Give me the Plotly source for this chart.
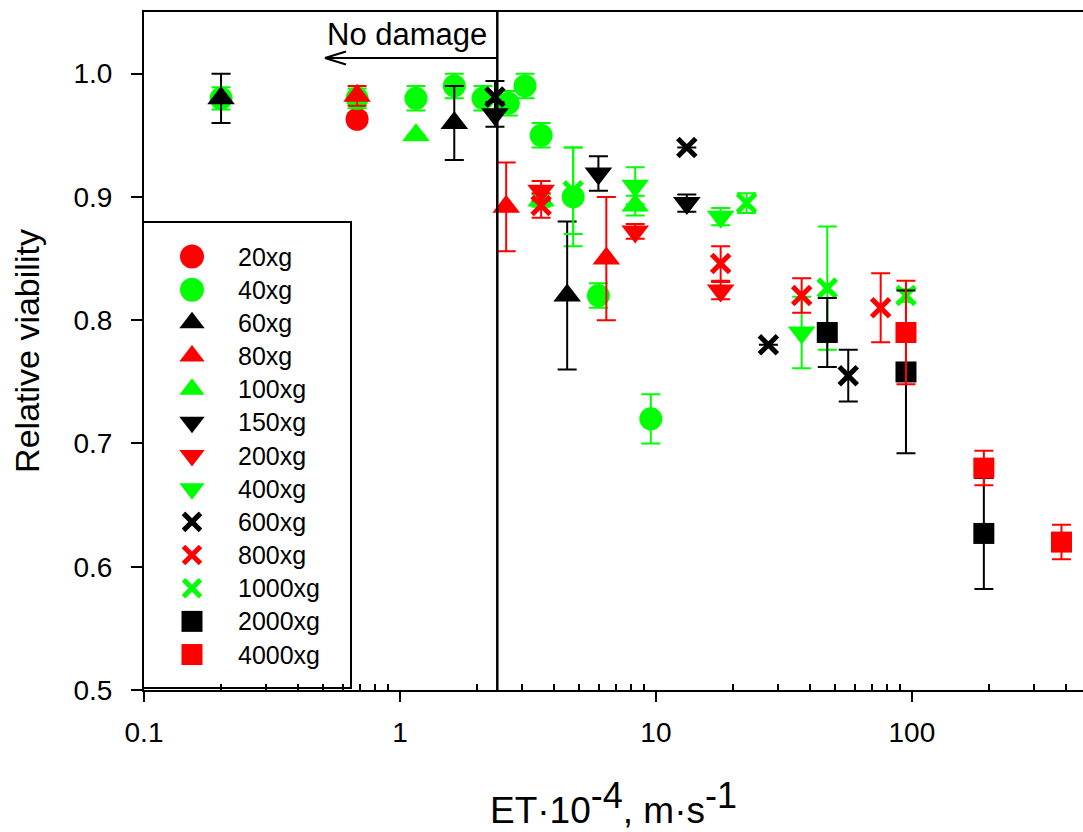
import math
import plotly.graph_objects as go

# ---------------- data ----------------
labels = ["20xg", "40xg", "60xg", "80xg", "100xg", "150xg", "200xg",
          "400xg", "600xg", "800xg", "1000xg", "2000xg", "4000xg"]

et_20 = [0.68]
v_20 = [0.963]
e_20 = [0.005]

et_40 = [0.2, 0.68, 1.155, 1.63, 2.11, 2.65, 3.08, 3.56, 4.75, 5.96, 9.55]
v_40 = [0.98, 0.98, 0.98, 0.99, 0.98, 0.976, 0.99, 0.95, 0.90, 0.82, 0.72]
e_40 = [0.009, 0.008, 0.01, 0.01, 0.01, 0.01, 0.01, 0.01, 0.04, 0.01, 0.02]

et_60 = [0.2, 1.63, 4.5]
v_60 = [0.98, 0.96, 0.82]
e_60 = [0.02, 0.03, 0.06]

et_80 = [0.68, 2.6, 6.4]
v_80 = [0.982, 0.892, 0.85]
e_80 = [0.008, 0.036, 0.05]

et_100 = [1.155, 3.56, 8.3]
v_100 = [0.95, 0.897, 0.893]
e_100 = [0.0, 0.005, 0.008]

et_150 = [2.35, 5.96, 13.2]
v_150 = [0.967, 0.919, 0.895]
e_150 = [0.01, 0.014, 0.007]

et_200 = [3.56, 8.3, 17.9]
v_200 = [0.905, 0.872, 0.824]
e_200 = [0.008, 0.006, 0.007]

et_400 = [8.3, 17.9, 37.1]
v_400 = [0.909, 0.884, 0.79]
e_400 = [0.015, 0.007, 0.029]

et_600 = [2.35, 13.2, 27.5, 56.4]
v_600 = [0.981, 0.94, 0.78, 0.755]
e_600 = [0.013, 0.0, 0.0, 0.021]

et_800 = [3.56, 17.9, 37.1, 75.5]
v_800 = [0.893, 0.846, 0.82, 0.81]
e_800 = [0.01, 0.014, 0.014, 0.028]

et_1000 = [4.75, 22.6, 46.7, 94.8]
v_1000 = [0.905, 0.895, 0.826, 0.82]
e_1000 = [0.035, 0.008, 0.05, 0.005]

et_2000 = [46.7, 94.8, 191]
v_2000 = [0.79, 0.758, 0.627]
e_2000 = [0.028, 0.066, 0.045]

et_4000 = [94.8, 191, 384]
v_4000 = [0.79, 0.68, 0.62]
e_4000 = [0.042, 0.014, 0.014]

no_damage_limit = 2.4

x_ticks = [0.1, 1, 10, 100]
x_ticktext = ["0.1", "1", "10", "100"]
y_ticks = [0.5, 0.6, 0.7, 0.8, 0.9, 1.0]

# ---------------- styles ----------------
RED, GREEN, BLACK = "#ff0000", "#00ff00", "#000000"
series = [
    (et_20, v_20, e_20, RED, "circle"),
    (et_40, v_40, e_40, GREEN, "circle"),
    (et_60, v_60, e_60, BLACK, "triangle-up"),
    (et_80, v_80, e_80, RED, "triangle-up"),
    (et_100, v_100, e_100, GREEN, "triangle-up"),
    (et_150, v_150, e_150, BLACK, "triangle-down"),
    (et_200, v_200, e_200, RED, "triangle-down"),
    (et_400, v_400, e_400, GREEN, "triangle-down"),
    (et_600, v_600, e_600, BLACK, "x-thin"),
    (et_800, v_800, e_800, RED, "x-thin"),
    (et_1000, v_1000, e_1000, GREEN, "x-thin"),
    (et_2000, v_2000, e_2000, BLACK, "square"),
    (et_4000, v_4000, e_4000, RED, "square"),
]
plot_size = {"circle": 23, "triangle-up": 24, "triangle-down": 24, "x-thin": 18, "square": 21}
legend_size = {"circle": 24, "triangle-up": 22, "triangle-down": 22, "x-thin": 17, "square": 21}

FONT = "Liberation Sans, Arial, sans-serif"
W, H = 1083, 832
L, R, T, B = 144, 0, 12, 142
PW, PH = W - L - R, H - T - B


def px2paper_x(px):
    return (px - L) / PW


def px2paper_y(py):
    return (H - B - py) / PH


def marker(sym, size, color):
    if sym == "x-thin":
        return dict(symbol=sym, size=size, color=color, line=dict(color=color, width=5))
    return dict(symbol=sym, size=size, color=color, line=dict(width=0))


fig = go.Figure()

for (xs, ys, es, color, sym), name in zip(series, labels):
    fig.add_trace(go.Scatter(
        x=xs, y=ys, mode="markers", name=name, showlegend=False,
        marker=marker(sym, plot_size[sym], color),
        error_y=dict(type="data", array=es, visible=True, color=color,
                     thickness=2, width=9.5),
        hoverinfo="skip",
    ))

# ---- custom legend (drawn on its own hidden axes, inside the legend box) ----
leg_x0, leg_x1, leg_y0, leg_y1 = 143, 351, 222, 688
first_row, row_step = 256.5, 33.17
sym_x, text_x = 192, 236
for i, ((xs, ys, es, color, sym), name) in enumerate(zip(series, labels)):
    row_y = first_row + i * row_step
    fig.add_trace(go.Scatter(
        x=[sym_x], y=[row_y], mode="markers", showlegend=False,
        marker=marker(sym, legend_size[sym], color),
        xaxis="x2", yaxis="y2", hoverinfo="skip",
    ))
    fig.add_annotation(x=text_x, y=row_y, xref="x2", yref="y2", text=name,
                       showarrow=False, xanchor="left", yanchor="middle",
                       font=dict(family=FONT, size=25, color="black"))

fig.add_shape(type="rect", xref="paper", yref="paper",
              x0=px2paper_x(leg_x0), x1=px2paper_x(leg_x1),
              y0=px2paper_y(leg_y1), y1=px2paper_y(leg_y0),
              line=dict(color="black", width=2), fillcolor="white", layer="below")

# ---- no-damage limit line, arrow and label ----
x_lo, x_hi = -1, math.log10(466)
vx = (math.log10(no_damage_limit) - x_lo) / (x_hi - x_lo)
fig.add_shape(type="line", xref="paper", yref="paper", x0=vx, x1=vx, y0=0, y1=1,
              line=dict(color="black", width=2.5), layer="above")
arrow_y = px2paper_y(58)
tip = px2paper_x(325)
fig.add_shape(type="line", xref="paper", yref="paper", x0=vx, x1=tip, y0=arrow_y, y1=arrow_y,
              line=dict(color="black", width=2))
for dy in (-6.5, 6.5):
    fig.add_shape(type="line", xref="paper", yref="paper", x0=tip, x1=px2paper_x(346),
                  y0=arrow_y, y1=px2paper_y(58 + dy), line=dict(color="black", width=2))
fig.add_annotation(x=px2paper_x(489), y=px2paper_y(34.5), xref="paper", yref="paper",
                   text="No damage", showarrow=False, xanchor="right", yanchor="middle",
                   font=dict(family=FONT, size=31, color="black"))

x_title = ('ET·10<sup><span style="font-size:36px">-4</span></sup>, '
           'm·s<sup><span style="font-size:36px">-1</span></sup>')

fig.update_layout(
    width=W, height=H,
    margin=dict(l=L, r=R, t=T, b=B, pad=0),
    paper_bgcolor="white", plot_bgcolor="rgba(0,0,0,0)",
    font=dict(family=FONT, color="black"),
    showlegend=False,
    xaxis=dict(
        type="log", range=[x_lo, x_hi], tickvals=x_ticks, ticktext=x_ticktext,
        ticks="outside", ticklen=10, tickwidth=2, tickcolor="black",
        showline=True, linewidth=2, linecolor="black", mirror=True,
        showgrid=False, zeroline=False, tickfont=dict(size=28),
        ticklabelstandoff=6,
        minor=dict(ticks="inside", ticklen=6, tickwidth=1.5, tickcolor="black",
                   tickvals=[d * 10 ** e for e in range(-1, 3) for d in range(2, 10)],
                   showgrid=False),
        title=dict(text=x_title, font=dict(size=37), standoff=51),
    ),
    yaxis=dict(
        range=[0.5, 1.05], tickvals=y_ticks, tickformat=".1f",
        ticks="outside", ticklen=11, tickwidth=2, tickcolor="black",
        showline=True, linewidth=2, linecolor="black", mirror=False,
        showgrid=False, zeroline=False, tickfont=dict(size=28),
        ticklabelstandoff=13,
        title=dict(text="Relative viability", font=dict(size=34), standoff=24),
    ),
    xaxis2=dict(domain=[0, px2paper_x(leg_x1)], range=[L, leg_x1], anchor="y2",
                visible=False, fixedrange=True),
    yaxis2=dict(domain=[0, px2paper_y(leg_y0)], range=[H - B, leg_y0], anchor="x2",
                visible=False, fixedrange=True),
)

fig.write_html("out.html", config={"displayModeBar": False},
               post_script="document.body.style.margin='0';document.body.style.overflow='hidden';")
